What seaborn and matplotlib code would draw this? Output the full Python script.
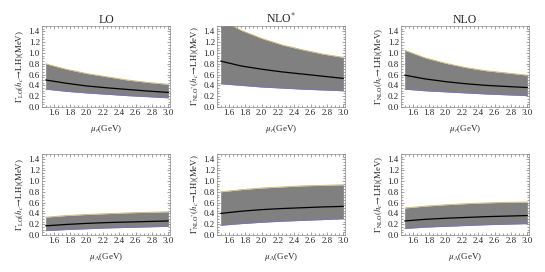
import matplotlib
matplotlib.use("Agg")
import matplotlib.pyplot as plt
from matplotlib.ticker import MultipleLocator
import seaborn as sns
import pandas as pd

mu = [1.5, 1.75, 2.0, 2.25, 2.5, 2.75, 3.0]

# top row: scale mu_r
lo_r_c = [0.50, 0.44, 0.39, 0.355, 0.325, 0.295, 0.27]
lo_r_hi = [0.80, 0.70, 0.62, 0.56, 0.50, 0.455, 0.42]
lo_r_lo = [0.33, 0.29, 0.26, 0.235, 0.21, 0.19, 0.17]
nlos_r_c = [0.85, 0.76, 0.70, 0.65, 0.61, 0.57, 0.53]
nlos_r_hi = [1.62, 1.42, 1.27, 1.15, 1.06, 0.98, 0.92]
nlos_r_lo = [0.43, 0.40, 0.37, 0.35, 0.33, 0.315, 0.30]
nlo_r_c = [0.59, 0.52, 0.47, 0.43, 0.40, 0.38, 0.36]
nlo_r_hi = [1.05, 0.91, 0.81, 0.73, 0.67, 0.63, 0.59]
nlo_r_lo = [0.33, 0.30, 0.28, 0.26, 0.24, 0.225, 0.21]

# bottom row: scale mu_Lambda
lo_l_c = [0.17, 0.195, 0.215, 0.23, 0.24, 0.25, 0.26]
lo_l_hi = [0.33, 0.36, 0.38, 0.395, 0.41, 0.42, 0.43]
lo_l_lo = [0.08, 0.10, 0.115, 0.13, 0.14, 0.15, 0.16]
nlos_l_c = [0.40, 0.44, 0.47, 0.49, 0.505, 0.52, 0.53]
nlos_l_hi = [0.80, 0.84, 0.87, 0.89, 0.91, 0.92, 0.93]
nlos_l_lo = [0.18, 0.21, 0.235, 0.255, 0.27, 0.285, 0.30]
nlo_l_c = [0.26, 0.29, 0.31, 0.325, 0.34, 0.35, 0.36]
nlo_l_hi = [0.50, 0.535, 0.56, 0.58, 0.595, 0.605, 0.61]
nlo_l_lo = [0.12, 0.145, 0.16, 0.175, 0.19, 0.20, 0.21]

titles = ["LO", "NLO$^{*}$", "NLO"]
subs = [r"{\rm LO}", r"{\rm NLO^{*}}", r"{\rm NLO}"]
xlabels = [r"$\mu_r$(GeV)", r"$\mu_\Lambda$(GeV)"]

sns.set_style("ticks")
plt.rcParams["font.family"] = ["Liberation Serif", "DejaVu Serif"]
plt.rcParams["mathtext.fontset"] = "stix"

fig = plt.figure(figsize=(5.45, 2.72), dpi=100)
lefts = [42 / 545, 217 / 545, 401 / 545]
width = 128 / 545
bottoms = [1 - 107 / 272, 1 - 235 / 272]
height = 81 / 272

rows = [
    [(lo_r_c, lo_r_hi, lo_r_lo), (nlos_r_c, nlos_r_hi, nlos_r_lo), (nlo_r_c, nlo_r_hi, nlo_r_lo)],
    [(lo_l_c, lo_l_hi, lo_l_lo), (nlos_l_c, nlos_l_hi, nlos_l_lo), (nlo_l_c, nlo_l_hi, nlo_l_lo)],
]

for r in range(2):
    for c in range(3):
        ax = fig.add_axes([lefts[c], bottoms[r], width, height])
        cen, hi, lo = rows[r][c]
        ax.fill_between(mu, lo, hi, color="#808080", linewidth=0, zorder=1)
        ax.plot(mu, hi, color="#c9b56a", linewidth=0.6, zorder=2)
        ax.plot(mu, lo, color="#7a74c4", linewidth=0.6, zorder=2)
        df = pd.DataFrame({"mu": mu, "gamma": cen})
        sns.lineplot(data=df, x="mu", y="gamma", color="black", linewidth=0.9, ax=ax, zorder=3)
        ax.set_xlim(1.455, 3.02)
        ax.set_ylim(0.0, 1.5)
        ax.xaxis.set_major_locator(MultipleLocator(0.2))
        ax.xaxis.set_minor_locator(MultipleLocator(0.05))
        ax.yaxis.set_major_locator(MultipleLocator(0.2))
        ax.yaxis.set_minor_locator(MultipleLocator(0.05))
        ax.set_xticks([1.6, 1.8, 2.0, 2.2, 2.4, 2.6, 2.8, 3.0])
        ax.tick_params(which="both", direction="in", top=True, right=True,
                       labelsize=6.5, pad=1.5, width=0.4, color="#555555")
        ax.tick_params(which="major", length=2.5)
        ax.tick_params(which="minor", length=1.2)
        for s in ax.spines.values():
            s.set_linewidth(0.5)
            s.set_color("#888888")
        ax.set_xlabel(xlabels[r], fontsize=6.5, labelpad=4)
        ax.set_ylabel(r"$\Gamma_{%s}(h_c\!\to\!{\rm LH})$(MeV)" % subs[c], fontsize=6.3, labelpad=2)
        if r == 0:
            ax.set_title(titles[c], fontsize=8.5, pad=2)

fig.savefig("out.png", dpi=100)
